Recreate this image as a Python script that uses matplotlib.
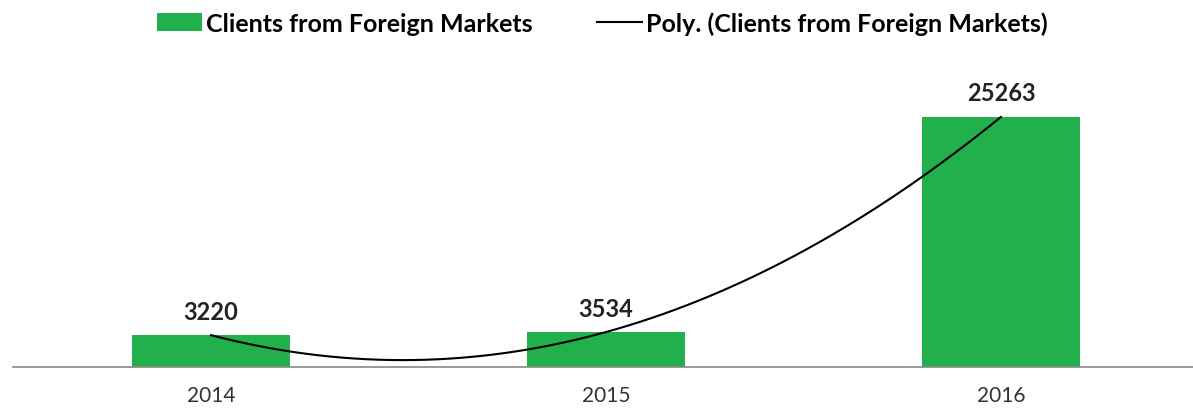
import numpy as np
import matplotlib
matplotlib.use('Agg')
from matplotlib import pyplot as plt

years = ['2014', '2015', '2016']
clients = [3220, 3534, 25263]

bar_color = '#21B04B'

plt.rcParams['font.family'] = ['Lato', 'DejaVu Sans']

fig = plt.figure(figsize=(11.93, 4.10), dpi=100)
ax = fig.add_axes([0.0113, 0.1024, 0.9933, 0.7244])

x = np.arange(len(years))
bars = ax.bar(x, clients, width=0.4, color=bar_color,
              label='Clients from Foreign Markets', zorder=2)

# excel style polynomial trendline (order 2)
coef = np.polyfit(x, clients, 2)
xs = np.linspace(x[0], x[-1], 200)
ax.plot(xs, np.polyval(coef, xs), color='black', lw=1.5, zorder=3,
        label='Poly. (Clients from Foreign Markets)')

for xi, v in zip(x, clients):
    ax.annotate(str(v), (xi, v), xytext=(0, 9), textcoords='offset points',
                ha='center', va='bottom', fontsize=17, fontweight='bold',
                color='#222222')

ax.set_xlim(-0.5, 2.5)
ax.set_ylim(0, 30000)
ax.set_xticks(x)
ax.set_xticklabels(years, fontsize=15, color='#333333')
ax.tick_params(axis='x', length=0, pad=13)
ax.set_yticks([])
for s in ['top', 'left', 'right']:
    ax.spines[s].set_visible(False)
ax.spines['bottom'].set_color('#888888')
ax.spines['bottom'].set_linewidth(1.2)

handles, labels = ax.get_legend_handles_labels()
fig.legend(handles[::-1], labels[::-1], loc='upper center',
           bbox_to_anchor=(0.505, 1.025), ncol=2, frameon=False,
           prop={'size': 18, 'weight': 'bold'}, handlelength=1.8,
           handletextpad=0.15, columnspacing=2.6)

fig.savefig('out.png', dpi=100)
